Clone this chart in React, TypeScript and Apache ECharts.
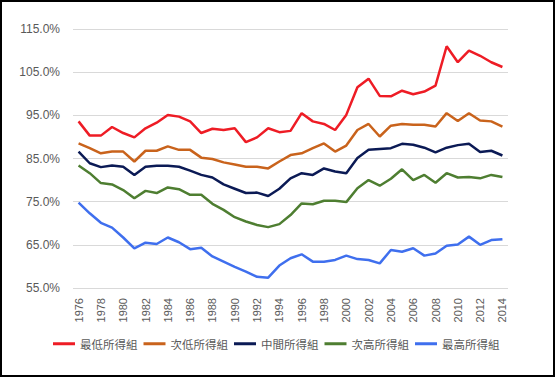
import React, { useEffect, useRef } from "react";
import * as echarts from "echarts";

const years: string[] = [];
for (let y = 1976; y <= 2014; y++) years.push(String(y));

const seriesNames = ["最低所得組", "次低所得組", "中間所得組", "次高所得組", "最高所得組"];

const lowest = [93.6, 90.3, 90.3, 92.3, 90.9, 89.9, 92.0, 93.3, 95.1, 94.7, 93.6, 90.9, 91.9, 91.6, 92.0, 88.8, 89.9, 92.0, 91.1, 91.4, 95.5, 93.6, 93.0, 91.6, 95.1, 101.5, 103.5, 99.5, 99.4, 100.7, 99.9, 100.5, 101.9, 111.0, 107.3, 110.0, 108.8, 107.3, 106.2];
const secondLow = [88.5, 87.4, 86.2, 86.6, 86.6, 84.3, 86.8, 86.8, 87.8, 87.0, 87.0, 85.2, 84.9, 84.1, 83.6, 83.1, 83.1, 82.7, 84.3, 85.8, 86.2, 87.4, 88.5, 86.6, 88.0, 91.6, 93.0, 90.1, 92.6, 93.0, 92.8, 92.8, 92.4, 95.5, 93.7, 95.5, 93.8, 93.6, 92.4];
const middle = [86.6, 83.9, 83.0, 83.4, 83.1, 81.2, 83.1, 83.3, 83.3, 83.1, 82.2, 81.2, 80.6, 79.0, 78.0, 77.0, 77.1, 76.3, 78.0, 80.4, 81.6, 81.2, 82.7, 82.0, 81.6, 85.1, 87.0, 87.2, 87.4, 88.4, 88.2, 87.5, 86.4, 87.5, 88.1, 88.4, 86.5, 86.8, 85.7];
const secondHigh = [83.4, 81.6, 79.3, 79.0, 77.7, 75.8, 77.5, 77.0, 78.3, 77.9, 76.6, 76.6, 74.5, 73.1, 71.4, 70.4, 69.6, 69.1, 69.8, 71.9, 74.6, 74.4, 75.2, 75.2, 74.9, 78.1, 80.0, 78.7, 80.3, 82.5, 80.0, 81.2, 79.4, 81.6, 80.6, 80.7, 80.4, 81.2, 80.7];
const highest = [74.8, 72.3, 70.1, 69.0, 66.7, 64.2, 65.5, 65.2, 66.7, 65.6, 64.0, 64.3, 62.3, 61.1, 59.9, 58.8, 57.6, 57.4, 60.2, 61.9, 62.8, 61.1, 61.1, 61.5, 62.5, 61.7, 61.5, 60.7, 63.8, 63.4, 64.2, 62.5, 63.0, 64.8, 65.1, 66.9, 65.0, 66.1, 66.3];

const yTicks = [55, 65, 75, 85, 95, 105, 115];
const colors = ["#EE1C25", "#C9631C", "#0B1A55", "#4E7E31", "#3F6FEE"];

export default function App() {
  const ref = useRef<HTMLDivElement>(null);
  useEffect(() => {
    if (!ref.current) return;
    const chart = echarts.init(ref.current, undefined, { renderer: "svg" });
    const allData = [lowest, secondLow, middle, secondHigh, highest];
    chart.setOption({
      animation: false,
      backgroundColor: "#ffffff",
      color: colors,
      textStyle: { fontFamily: "'Liberation Sans', 'Noto Sans CJK TC', sans-serif" },
      grid: { left: 73, right: 48, top: 29, bottom: 90 },
      legend: {
        left: 48,
        top: 333,
        itemWidth: 22,
        itemHeight: 3,
        itemGap: 6,
        icon: "rect",
        textStyle: { fontSize: 11.5, color: "#595959", fontFamily: "'Noto Sans CJK TC', sans-serif" },
        data: seriesNames,
      },
      xAxis: {
        type: "category",
        data: years,
        boundaryGap: true,
        axisLine: { show: false },
        axisTick: { show: false },
        axisLabel: { rotate: 90, interval: 1, fontSize: 11, color: "#595959", margin: 10 },
      },
      yAxis: {
        type: "value",
        min: 55,
        max: 115,
        axisLine: { show: false },
        axisTick: { show: false, customValues: yTicks },
        axisLabel: {
          customValues: yTicks,
          fontSize: 12,
          color: "#595959",
          margin: 13,
          formatter: (v: number) => v.toFixed(1) + "%",
        },
        splitLine: { show: true, lineStyle: { color: "#D9D9D9", width: 1 } },
      },
      series: seriesNames.map((name, i) => ({
        name,
        type: "line",
        data: allData[i],
        showSymbol: false,
        symbol: "none",
        lineStyle: { width: 2.5, color: colors[i] },
        itemStyle: { color: colors[i] },
      })),
    });
    return () => chart.dispose();
  }, []);
  return (
    <div style={{ position: "fixed", left: 0, top: 0, width: 556, height: 378, background: "#fff" }}>
      <div ref={ref} style={{ position: "absolute", left: 0, top: 0, width: 556, height: 378 }} />
      <div
        style={{
          position: "absolute",
          left: 0,
          top: 0,
          width: 555,
          height: 377,
          boxSizing: "border-box",
          border: "2px solid #000",
          pointerEvents: "none",
        }}
      />
    </div>
  );
}
